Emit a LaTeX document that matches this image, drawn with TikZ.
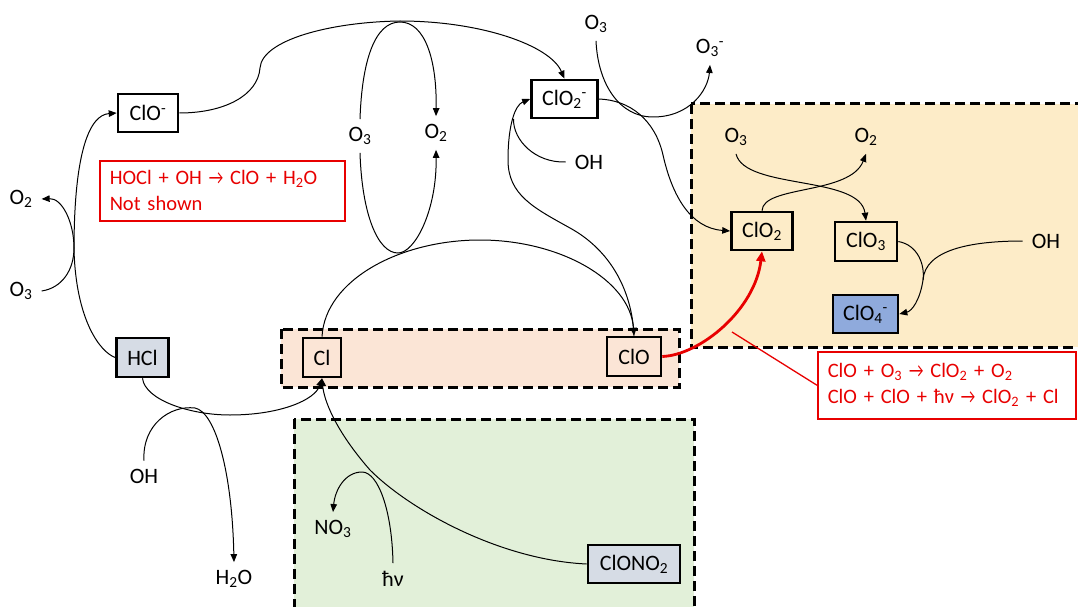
\documentclass[tikz,border=0pt]{standalone}
\usepackage{fontspec}
\setmainfont{Carlito}
\usetikzlibrary{arrows.meta}
\newcommand{\sbs}[1]{\textsubscript{#1}}
\newcommand{\sps}[1]{\textsuperscript{#1}}
\newcommand{\rarr}{\scalebox{0.78}[1]{→}}
\definecolor{pinkband}{RGB}{251,229,214}
\definecolor{orangereg}{RGB}{253,236,200}
\definecolor{greenreg}{RGB}{226,240,217}
\definecolor{grayfill}{RGB}{214,220,229}
\definecolor{bluefill}{RGB}{143,170,220}
\definecolor{redc}{RGB}{232,0,0}
\begin{document}
\begin{tikzpicture}[x=1pt,y=-1pt,
 every node/.style={font=\fontsize{22}{26}\selectfont},
 chem/.style={draw, line width=2.6pt, inner sep=0pt, minimum height=38pt},
 lbl/.style={inner xsep=9pt, inner ysep=8pt},
 conn/.style={line width=1pt, -{Triangle[length=8pt,width=6.5pt]}},
 plainc/.style={line width=1pt},
 region/.style={draw, line width=3pt, dash pattern=on 10pt off 5pt},
 redbox/.style={draw=redc, line width=1.5pt, text=redc, align=left, anchor=north west, inner xsep=10pt, inner ysep=0pt, font=\fontsize{20.5}{26}\selectfont},
]
\clip (0,0) rectangle (1078,607);
\fill[white] (0,0) rectangle (1078,607);

% regions
\filldraw[region, fill=pinkband] (281,329) rectangle (679,387);
\filldraw[region, fill=orangereg] (691,104) rectangle (1095,347);
\filldraw[region, fill=greenreg] (294,419) rectangle (694,620);

% boxes
\node[chem, minimum width=60pt] (clom) at (148,113) {ClO\sps{-}};
\node[chem, minimum width=66pt] (clo2m) at (564.5,99) {ClO\sbs{2}\sps{-}};
\node[chem, minimum width=52pt, minimum height=39pt, fill=grayfill] (hcl) at (142.5,357.5) {HCl};
\node[chem, minimum width=38pt, minimum height=39pt] (cl) at (322,357.5) {Cl};
\node[chem, minimum width=54pt, minimum height=39pt] (clo) at (634,356.5) {ClO};
\node[chem, minimum width=61pt] (clo2) at (762,231) {ClO\sbs{2}};
\node[chem, minimum width=62pt, minimum height=39pt] (clo3) at (866,241.5) {ClO\sbs{3}};
\node[chem, minimum width=65pt, fill=bluefill] (clo4) at (865.5,314) {ClO\sbs{4}\sps{-}};
\node[chem, minimum width=92pt, fill=grayfill] (clono2) at (634,564) {ClONO\sbs{2}};

% labels
\node[lbl] (o2L) at (21,199) {O\sbs{2}};
\node[lbl] (o3L) at (21,291) {O\sbs{3}};
\node[lbl] (o3a) at (360,136) {O\sbs{3}};
\node[lbl] (o2a) at (436,133) {O\sbs{2}};
\node[lbl] (ohA) at (589,162) {OH};
\node[lbl] (o3t) at (596,24) {O\sbs{3}};
\node[lbl] (o3mt) at (710,48) {O\sbs{3}\sps{-}};
\node[lbl] (o3r) at (736,137) {O\sbs{3}};
\node[lbl] (o2r) at (866,137) {O\sbs{2}};
\node[lbl] (ohR) at (1046,241) {OH};
\node[lbl] (ohB) at (144,476) {OH};
\node[lbl] (h2o) at (234,579) {H\sbs{2}O};
\node[lbl] (no3) at (333,529) {NO\sbs{3}};
\node[lbl] (hv) at (393,579) {ħν};

% red boxes
\node[redbox, minimum width=245pt, minimum height=60pt, text width=225pt] (redL) at (99,160)
  {\mbox{HOCl + OH \rarr{} ClO + H\sbs{2}O}\\Not shown};
\node[redbox, minimum width=258pt, minimum height=67pt, text width=238pt] (redR) at (817,351)
  {\mbox{ClO + O\sbs{3} \rarr{} ClO\sbs{2} + O\sbs{2}}\\\mbox{ClO + ClO + ħν \rarr{} ClO\sbs{2} + Cl}};
\coordinate (redpt) at (732,332);

% merge points
\coordinate (mOH) at (513.5,119);
\coordinate (mOH2) at (923,280);

% connectors
\draw[conn] (hcl.west) .. controls (100,352) and (76,320) .. (74,250)
  .. controls (74,150) and (90,115) .. (clom.west);
\draw[conn] (o3L.east) .. controls (62,288) and (74,270) .. (74,248)
  .. controls (74,222) and (62,198) .. (o2L.east);
\draw[conn] (clom.east) .. controls (225,113) and (258,95) .. (260,68)
  .. controls (262,40) and (330,22) .. (400,21)
  .. controls (480,21) and (550,45) .. (clo2m.north);
\draw[conn] (o3a.north) .. controls (362,60) and (375,22) .. (400,22)
  .. controls (425,22) and (437,60) .. (o2a.north);
\draw[conn] (o3a.south) .. controls (362,215) and (378,253) .. (398,253)
  .. controls (415,253) and (437,210) .. (o2a.south);
\draw[conn] (cl.north) .. controls (325,280) and (400,240) .. (480,240)
  .. controls (560,240) and (630,280) .. (clo.north);
\draw[conn] (clo.north) .. controls (632,290) and (610,250) .. (570,228)
  .. controls (534,208) and (508,195) .. (508,160)
  .. controls (508,125) and (515,105) .. (clo2m.west);
\draw[plainc] (ohA.west) .. controls (535,163) and (513,140) .. (mOH);
\draw[conn] (clo2m.east) .. controls (630,100) and (655,120) .. (663,155)
  .. controls (672,195) and (690,228) .. (clo2.west);
\draw[conn] (o3t.south) .. controls (598,85) and (620,117) .. (653,117)
  .. controls (690,117) and (708,90) .. (o3mt.south);
\draw[conn] (o3r.south) .. controls (745,190) and (860,175) .. (clo3.north);
\draw[conn] (clo2.north) .. controls (763,185) and (850,195) .. (o2r.south);
\draw[conn] (clo3.east) .. controls (918,245) and (925,265) .. (923,280)
  .. controls (920,300) and (912,311) .. (clo4.east);
\draw[plainc] (ohR.west) .. controls (970,241) and (925,250) .. (mOH2);
\draw[conn] (hcl.south) .. controls (145,400) and (190,415) .. (230,415)
  .. controls (280,415) and (315,400) .. (cl.south);
\draw[conn] (ohB.north) .. controls (142,425) and (170,405) .. (195,408)
  .. controls (215,412) and (232,470) .. (h2o.north);
\draw[conn] (clono2.west) .. controls (500,560) and (410,510) .. (370,470)
  .. controls (335,430) and (324,400) .. (cl.south);
\draw[conn] (hv.north) .. controls (392,510) and (378,472) .. (362,472)
  .. controls (345,472) and (335,490) .. (no3.north);
\draw[redc, line width=2.8pt, -{Triangle[length=10pt,width=9pt]}] (clo.east) .. controls (700,355) and (755,310) .. (clo2.south);
\draw[redc, line width=1.3pt] (redR.west) -- (redpt);
\end{tikzpicture}
\end{document}
